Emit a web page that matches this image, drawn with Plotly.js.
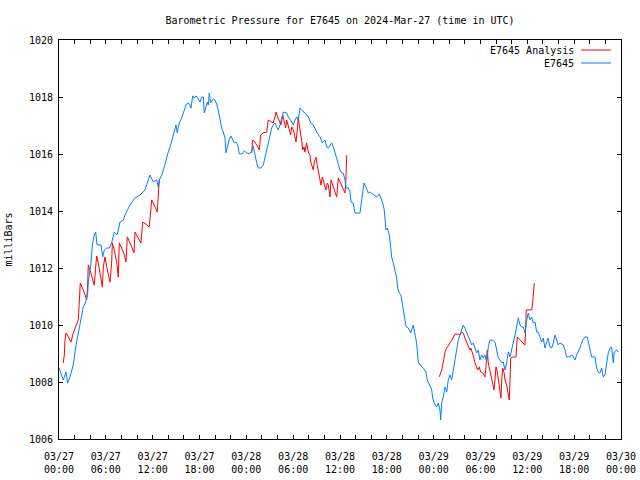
<!DOCTYPE html>
<html>
<head>
<meta charset="utf-8">
<script src="https://cdn.plot.ly/plotly-3.0.1.min.js"></script>
<style>html,body{margin:0;padding:0;background:#fff;}#chart{width:640px;height:480px;}</style>
</head>
<body>
<div id="chart"></div>
<script>
// Hours after 2024-03-27 00:00 UTC
var stationHours = [0,0.55,0.90,1.11,1.41,1.83,2.14,2.47,2.82,3.11,3.42,3.68,3.75,4.10,4.27,4.52,4.70,4.87,5.38,5.60,5.80,6.11,6.44,6.75,7.08,7.43,7.60,7.81,8.24,8.46,9.10,9.74,10.38,11.02,11.66,12.08,12.52,12.72,12.85,13.16,13.45,13.71,14.00,14.31,14.57,14.86,14.99,15.15,15.41,15.72,16.01,16.27,16.49,16.69,16.91,17.13,17.33,17.55,17.77,18.06,18.28,18.49,18.61,18.83,19.00,19.13,19.25,19.43,19.77,19.98,20.20,20.41,20.63,20.84,21.05,21.27,21.39,21.56,21.78,22.03,22.25,22.46,22.67,22.89,23.10,23.44,23.74,24.05,24.38,24.69,24.89,25.11,25.33,25.53,25.88,26.17,26.39,26.58,26.81,27.03,27.25,27.45,27.67,27.89,28.09,28.31,28.53,28.73,29.17,29.38,29.59,29.81,30.02,30.23,30.45,30.66,30.87,31.09,31.51,31.94,32.24,32.58,33.01,33.44,33.73,34.08,34.29,34.50,34.94,35.14,35.36,35.58,35.78,36.00,36.22,36.42,36.64,36.77,37.06,37.28,37.41,37.70,37.92,38.56,38.69,38.86,39.07,39.33,39.62,39.84,40.06,40.48,40.70,41.03,41.21,41.47,41.67,41.76,41.89,42.06,42.19,42.31,42.49,42.62,42.83,43.04,43.26,43.39,43.59,43.81,43.90,44.03,44.20,44.45,44.75,45.06,45.39,45.61,45.82,46.03,46.25,46.67,47.02,47.18,47.44,47.75,47.87,48.08,48.39,48.59,48.81,48.90,49.03,49.23,49.45,49.67,49.87,50.09,50.31,50.51,50.73,50.95,51.15,51.37,51.59,51.79,52.01,52.23,52.43,52.65,52.87,53.08,53.29,53.51,53.72,53.93,54.15,54.36,54.57,54.79,55.00,55.21,55.56,55.85,56.07,56.28,56.50,56.71,56.92,57.14,57.35,57.56,57.78,57.99,58.20,58.42,58.63,58.84,59.06,59.27,59.48,59.70,59.92,60.12,60.34,60.56,60.76,60.98,61.20,61.40,61.62,61.84,62.04,62.26,62.48,62.68,62.90,63.12,63.32,63.54,63.76,63.96,64.18,64.60,64.82,65.04,65.46,65.68,65.89,66.10,66.32,66.74,67.09,67.38,67.68,67.81,68.03,68.24,68.67,68.88,69.09,69.31,69.52,69.73,69.95,70.16,70.37,70.59,70.80,71.01,71.14,71.45,71.65];
var stationPressure = [1008.49,1008.07,1008.35,1007.96,1008.18,1008.60,1009.23,1009.75,1010.28,1010.63,1010.81,1011.12,1011.51,1012.18,1012.81,1013.16,1013.26,1012.81,1012.81,1012.39,1012.63,1012.70,1012.70,1012.88,1013.26,1013.16,1013.33,1013.61,1013.68,1013.86,1014.21,1014.46,1014.56,1014.74,1015.26,1015.02,1015.09,1014.84,1015.09,1015.26,1015.51,1015.79,1016.07,1016.32,1016.60,1016.91,1017.02,1016.74,1017.09,1017.26,1017.47,1017.72,1017.79,1017.75,1017.61,1018.04,1017.96,1018.04,1017.96,1017.82,1018.00,1018.00,1017.44,1017.65,1017.82,1017.72,1018.14,1017.79,1017.93,1017.89,1017.75,1017.54,1017.19,1016.91,1016.77,1016.56,1016.04,1016.25,1016.49,1016.63,1016.49,1016.39,1016.42,1016.32,1016.00,1016.00,1016.11,1016.04,1016.00,1016.11,1016.28,1015.96,1015.68,1015.51,1015.51,1015.61,1015.89,1016.07,1016.32,1016.60,1016.91,1017.02,1017.09,1016.95,1016.84,1017.02,1017.30,1017.47,1017.44,1017.30,1017.23,1017.09,1017.02,1017.19,1017.30,1017.19,1017.61,1017.54,1017.44,1017.30,1017.09,1017.02,1016.77,1016.60,1016.39,1016.49,1016.25,1016.21,1016.39,1016.25,1016.04,1015.89,1015.61,1015.44,1015.33,1015.33,1015.09,1014.81,1014.81,1014.67,1014.32,1014.28,1013.93,1013.93,1014.21,1014.63,1014.98,1014.84,1014.63,1014.67,1014.63,1014.56,1014.49,1014.60,1014.46,1014.28,1014.04,1013.75,1013.33,1013.40,1013.30,1013.16,1012.74,1012.39,1012.18,1011.93,1011.65,1011.30,1011.12,1011.05,1010.88,1010.63,1010.28,1009.96,1009.89,1009.72,1010.00,1009.72,1009.37,1008.70,1008.60,1008.49,1008.35,1008.07,1007.89,1007.72,1007.44,1007.26,1007.12,1007.26,1007.02,1006.67,1007.26,1007.47,1007.82,1007.65,1008.07,1008.25,1008.07,1008.42,1008.70,1009.12,1009.47,1009.65,1009.89,1010.00,1009.89,1009.72,1009.58,1009.47,1009.30,1009.37,1009.19,1009.02,1009.12,1008.77,1008.95,1008.84,1008.95,1008.70,1009.23,1009.47,1009.47,1009.40,1009.12,1008.84,1008.77,1008.67,1008.70,1008.42,1008.67,1009.05,1008.88,1009.12,1009.30,1009.65,1009.93,1010.25,1010.00,1009.93,1009.93,1009.72,1010.18,1010.42,1010.18,1010.28,1010.07,1010.11,1009.75,1009.75,1009.58,1009.40,1009.54,1009.19,1009.40,1009.54,1009.23,1009.19,1009.37,1009.65,1009.47,1009.30,1009.37,1009.30,1009.12,1008.88,1008.88,1008.95,1008.88,1008.77,1008.95,1009.19,1009.47,1009.58,1009.58,1009.40,1009.12,1008.88,1008.88,1008.49,1008.35,1008.32,1008.49,1008.18,1008.25,1008.67,1009.02,1009.19,1009.23,1008.67,1009.05,1009.12,1009.05];

// Analysis series (null = no analysis drawn)
var analysisHours = [0.55,0.68,0.77,0.90,1.19,1.54,1.83,2.14,2.47,2.60,2.73,3.11,3.55,3.68,3.75,3.97,4.27,4.52,4.70,4.83,5.03,5.25,5.55,5.68,5.89,6.11,6.41,6.53,6.75,6.83,7.08,7.39,7.60,7.72,8.03,8.37,8.58,8.75,9.10,9.61,9.74,10.16,10.50,10.72,11.15,11.57,11.66,11.88,12.30,12.59,12.72,12.85,
  18.00,
  24.69,24.81,25.11,25.33,25.66,25.84,26.17,26.61,26.69,26.81,27.25,27.45,27.67,27.80,28.02,28.22,28.44,28.66,28.82,29.04,29.17,29.34,29.50,29.68,29.81,30.02,30.23,30.36,30.53,30.66,30.78,30.96,31.09,31.22,31.39,31.51,31.73,31.94,32.16,32.24,32.37,32.58,32.71,32.92,33.09,33.22,33.35,33.56,33.73,33.86,34.08,34.20,34.37,34.50,34.63,34.72,34.85,35.06,35.27,35.58,35.78,36.00,36.22,36.42,36.64,36.77,36.86,
  42.00,
  48.72,49.03,49.23,49.45,49.67,49.87,50.09,50.31,50.51,50.73,51.15,51.37,51.59,51.79,52.01,52.23,52.43,52.65,52.78,53.00,53.16,53.29,53.51,53.64,53.84,54.02,54.28,54.44,54.57,54.70,54.87,55.00,55.21,55.43,55.56,55.73,55.85,55.98,56.15,56.28,56.50,56.62,56.71,56.84,57.01,57.14,57.35,57.48,57.69,57.78,57.87,58.20,58.55,58.71,58.84,59.06,59.27,59.48,59.70,59.83,59.85,60.25,60.56,60.68,60.76,60.89];
var analysisPressure = [1008.67,1008.95,1009.47,1009.72,1009.58,1009.40,1009.72,1009.93,1010.18,1010.81,1011.47,1011.23,1010.88,1011.47,1012.11,1011.93,1011.58,1011.40,1012.04,1012.42,1012.18,1011.75,1011.33,1012.04,1012.39,1012.04,1011.68,1011.51,1012.21,1012.88,1012.63,1012.21,1011.68,1012.88,1012.70,1012.46,1012.21,1013.09,1012.88,1012.53,1013.26,1013.05,1012.88,1013.61,1013.54,1013.44,1013.68,1014.39,1014.14,1013.96,1014.56,1015.09,
  null,
  1016.04,1016.49,1016.42,1016.32,1016.14,1016.67,1016.74,1016.77,1016.95,1017.19,1017.12,1017.09,1017.30,1017.47,1017.30,1017.19,1017.02,1017.37,1017.12,1016.91,1017.19,1017.02,1016.77,1016.67,1016.95,1016.84,1016.60,1016.42,1016.84,1017.30,1017.02,1016.74,1016.49,1016.14,1016.25,1016.07,1016.39,1016.07,1015.96,1015.72,1015.61,1015.44,1015.72,1015.89,1015.61,1015.44,1015.19,1014.91,1015.19,1015.09,1014.84,1014.74,1014.98,1014.91,1014.67,1014.49,1015.09,1014.91,1014.74,1014.49,1015.16,1015.02,1014.91,1014.74,1014.63,1015.19,1015.96,
  null,
  1008.18,1008.42,1008.70,1009.05,1009.19,1009.26,1009.37,1009.47,1009.58,1009.68,1009.68,1009.65,1009.75,1009.72,1009.54,1009.37,1009.23,1009.12,1009.19,1009.02,1008.84,1008.67,1008.53,1008.42,1008.53,1008.35,1008.32,1008.25,1008.18,1008.53,1009.12,1008.67,1008.42,1008.07,1007.96,1007.72,1008.07,1008.53,1008.35,1008.07,1007.72,1007.44,1008.00,1008.49,1008.35,1008.07,1007.89,1007.65,1007.37,1008.07,1008.84,1008.88,1008.88,1009.58,1009.54,1009.51,1009.44,1009.37,1009.30,1010.18,1010.53,1010.53,1010.53,1010.77,1011.12,1011.47];

var seriesNames = ["E7645 Analysis", "E7645"];
var seriesColors = ["#ff0000", "#0080ff"];
var titleText = "Barometric Pressure for E7645 on 2024-Mar-27 (time in UTC)";
var yTitle = "milliBars";
var startUTC = Date.UTC(2024, 2, 27, 0, 0);
var xRange = ["2024-03-27 00:00", "2024-03-30 00:00"];
var yRange = [1006, 1020];

function toDate(h) {
  return new Date(startUTC + Math.round(h * 3600000)).toISOString().slice(0, 19).replace("T", " ");
}

var mono = "DejaVu Sans Mono, monospace";

var traces = [
  {x: analysisHours.map(toDate), y: analysisPressure, name: seriesNames[0], type: "scatter", mode: "lines",
   line: {color: seriesColors[0], width: 1}, connectgaps: false, showlegend: false},
  {x: stationHours.map(toDate), y: stationPressure, name: seriesNames[1], type: "scatter", mode: "lines",
   line: {color: seriesColors[1], width: 1}, showlegend: false}
];

// gnuplot-style key: text right-aligned, sample line to its right
var annotations = [], shapes = [];
for (var i = 0; i < seriesNames.length; i++) {
  var yPx = 50 + i * 13;           // key row centre, pixels from top of page
  var yPaper = 1 - (yPx - 40) / 399;
  annotations.push({xref: "paper", yref: "paper", x: (576 - 59) / 562, y: yPaper, xanchor: "right", yanchor: "middle",
    text: seriesNames[i], showarrow: false, font: {family: mono, size: 10, color: "#000"}});
  shapes.push({type: "line", xref: "paper", yref: "paper", x0: (581 - 59) / 562, x1: (611 - 59) / 562, y0: yPaper, y1: yPaper,
    line: {color: seriesColors[i], width: 1}});
}

var layout = {
  width: 640, height: 480,
  margin: {l: 59, r: 19, t: 40, b: 41, pad: 0},
  paper_bgcolor: "#fff", plot_bgcolor: "#fff",
  font: {family: mono, size: 10, color: "#000"},
  title: {text: titleText, font: {family: mono, size: 10, color: "#000"}, x: 0.5, xref: "paper", y: 1 - 20 / 480, yanchor: "middle"},
  xaxis: {type: "date", range: xRange, tick0: "2024-03-27 00:00", dtick: 6 * 3600000, tickformat: "%m/%d<br>%H:%M",
    ticks: "inside", ticklen: 4, tickcolor: "#000", tickwidth: 1, showline: true, linecolor: "#000", linewidth: 1,
    mirror: "allticks", showgrid: false, zeroline: false, fixedrange: true, ticklabelstandoff: 8,
    minor: {dtick: 2 * 3600000, tick0: "2024-03-27 00:00", ticks: "inside", ticklen: 4, tickcolor: "#000", tickwidth: 1, showgrid: false},
    tickfont: {family: mono, size: 10, color: "#000"}},
  yaxis: {range: yRange, dtick: 2, ticks: "inside", ticklen: 4, tickcolor: "#000", tickwidth: 1,
    showline: true, linecolor: "#000", linewidth: 1, mirror: "allticks", showgrid: false, zeroline: false,
    ticklabelstandoff: 3,
    tickfont: {family: mono, size: 10, color: "#000"},
    title: {text: yTitle, font: {family: mono, size: 10, color: "#000"}, standoff: 14}},
  annotations: annotations,
  shapes: shapes,
  showlegend: false
};

Plotly.newPlot("chart", traces, layout, {displayModeBar: false, staticPlot: true});
</script>
</body>
</html>
